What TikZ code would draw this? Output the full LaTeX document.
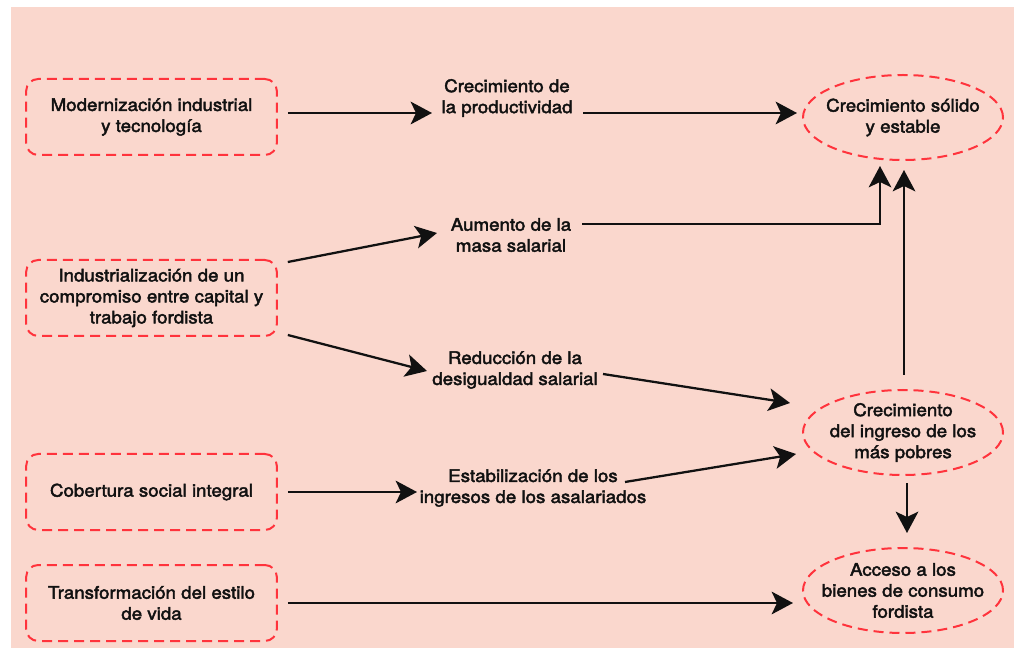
\documentclass[tikz,border=0pt]{standalone}
\usepackage{fontspec}
\setmainfont{TeX Gyre Heros}[FakeStretch=1.08,FakeBold=2.5]
\usetikzlibrary{arrows.meta,calc}
\definecolor{bgpink}{RGB}{250,215,205}
\definecolor{dashred}{RGB}{255,51,60}
\definecolor{ink}{RGB}{17,17,17}
\begin{document}
\begin{tikzpicture}[x=0.75pt,y=-0.75pt,
  every node/.style={font=\fontsize{13pt}{15.75pt}\selectfont,text=ink,align=center},
  dashy/.style={draw=dashred,line width=1.5pt,dash pattern=on 7.5pt off 4.5pt},
  rbox/.style={dashy,rounded corners=9pt,minimum width=188pt,minimum height=57pt,inner sep=0pt},
  oval/.style={minimum width=150pt,minimum height=63.75pt,inner sep=0pt},
  lbl/.style={inner sep=0pt},
  arr/.style={draw=ink,line width=1.7pt,-{Stealth[length=16pt,width=17pt,inset=4pt]}}]
\useasboundingbox (0,0) rectangle (1014,648);
\fill[bgpink] (11,7) rectangle (1014,648);
% boxes
\node[rbox] (b1) at (151.5,117) {Modernización industrial\\y tecnología};
\node[rbox] (b2) at (151.5,298) {Industrialización de un\\compromiso entre capital y\\trabajo fordista};
\node[rbox] (b3) at (151.5,492) {Cobertura social integral};
\node[rbox] (b4) at (151.5,603) {Transformación del estilo\\de vida};
% ellipses
\node[oval] (e1) at (903,117.5) {Crecimiento sólido\\y estable};
\node[oval] (e2) at (903,432.5) {Crecimiento\\del ingreso de los\\más pobres};
\node[oval] (e3) at (903,590.5) {Acceso a los\\bienes de consumo\\fordista};
\foreach \n in {e1,e2,e3} \draw[dashy] (\n) ellipse [x radius=75pt, y radius=31.875pt];
% labels
\node[lbl] (l1) at (507,98) {Crecimiento de\\la productividad};
\node[lbl] (l2) at (511,235) {Aumento de la\\masa salarial};
\node[lbl] (l3) at (515,370) {Reducción de la\\desigualdad salarial};
\node[lbl] (l4) at (533,488) {Estabilización de los\\ingresos de los asalariados};
% connectors
\draw[arr] ($(b1.east)+(10,-4)$) -- ($(l1)+(-75,15)$);
\draw[arr] ($(l1)+(76,15)$) -- ($(e1)+(-106,-4.5)$);
\draw[arr] ($(b2.east)+(10,-36)$) -- ($(l2)+(-74,-2)$);
\draw[arr] ($(l2)+(71,-11)$) -| ($(e1)+(-23,48.5)$);
\draw[arr] ($(b2.east)+(10,37)$) -- ($(l3)+(-88,1)$);
\draw[arr] ($(l3)+(88,4)$) -- ($(e2)+(-113,-29.5)$);
\draw[arr] ($(e2)+(1,-57.5)$) -- ($(e1)+(1,52.5)$);
\draw[arr] ($(b3.east)+(10,0)$) -- ($(l4)+(-116,4)$);
\draw[arr] ($(l4)+(92,-6)$) -- ($(e2)+(-107,21.5)$);
\draw[arr] ($(e2)+(4,50.5)$) -- ($(e3)+(4,-57.5)$);
\draw[arr] ($(b4.east)+(10,0)$) -- ($(e3)+(-110,12.5)$);
\end{tikzpicture}
\end{document}
